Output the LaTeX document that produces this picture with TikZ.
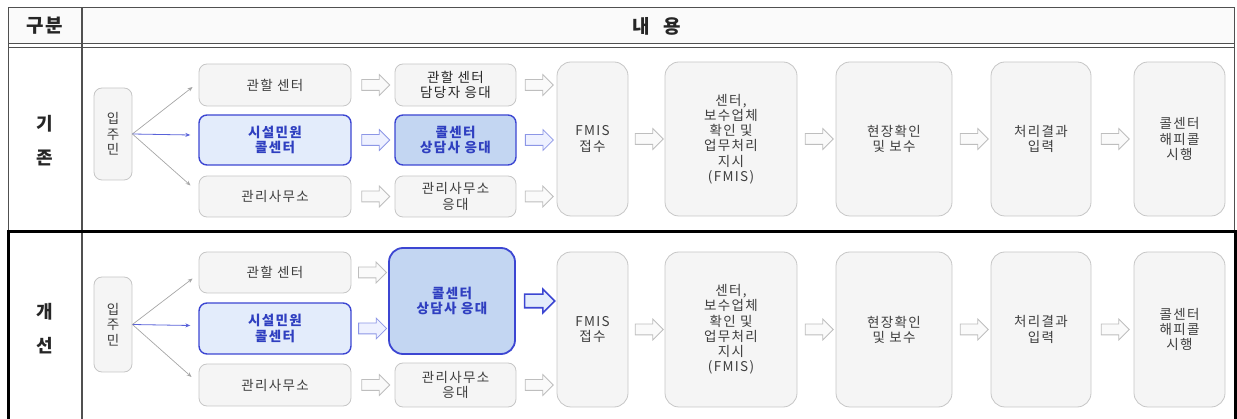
\documentclass[tikz,border=0pt]{standalone}
\usepackage{fontspec}
\newfontfamily\kr{Noto Sans CJK KR}[LetterSpace=10]
\usetikzlibrary{shapes.arrows,calc,arrows.meta}
\definecolor{gline}{HTML}{C6C6C6}
\definecolor{gfill}{HTML}{F5F5F5}
\definecolor{gtext}{HTML}{3E3E3E}
\definecolor{bline}{HTML}{3C46D2}
\definecolor{bfillA}{HTML}{E3ECFB}
\definecolor{bfillB}{HTML}{C3D6F2}
\definecolor{btext}{HTML}{2F3FC0}
\definecolor{aline}{HTML}{BEBEBE}
\definecolor{afill}{HTML}{FAFAFA}
\definecolor{abline}{HTML}{8C96E6}
\definecolor{abfill}{HTML}{EEF1FF}
\definecolor{tline}{HTML}{505050}
\newcommand\boxfont{\kr\fontsize{13.5}{15.2}\selectfont}
\newcommand\labfont{\kr\bfseries\fontsize{18}{34}\selectfont}
\tikzset{
  gbox/.style={draw=gline, fill=gfill, rounded corners=8pt, line width=0.8pt,
    font=\boxfont, text=gtext, align=center, inner sep=2pt},
  bigbox/.style={gbox, rounded corners=14pt},
  bbox/.style={draw=bline, fill=bfillA, rounded corners=8pt, line width=1.4pt,
    font=\boxfont\bfseries, text=btext, align=center, inner sep=2pt},
  bboxB/.style={bbox, fill=bfillB},
  barrow/.style={single arrow, draw=aline, fill=afill, line width=0.8pt,
    minimum height=28pt, minimum width=20pt, inner sep=5pt,
    single arrow head extend=5pt},
  barrowblue/.style={barrow, draw=abline, fill=abfill},
  barrowbold/.style={barrow, draw=bline, fill=bfillA, line width=1.6pt,
    minimum height=30pt, minimum width=21pt, inner sep=6pt},
  thin/.style={draw=gray!70, line width=0.7pt, -{Stealth[length=5pt,width=4pt]}},
  thinblue/.style={draw=bline!85, line width=0.8pt, -{Stealth[length=5pt,width=4pt]}},
  hdr/.style={font=\kr\bfseries\fontsize{19}{22}\selectfont, text=black!85},
  lab/.style={font=\labfont, text=black!85, align=center},
}
\begin{document}
\begin{tikzpicture}[x=1pt,y=-1pt]
\useasboundingbox (0,0) rectangle (1237,419);
% table
\fill[black!2] (8,8) rectangle (1234,44);
\draw[tline, line width=1pt] (8,419) -- (8,8) -- (1234,8) -- (1234,232);
\draw[tline, line width=1pt] (8,44) -- (1234,44);
\draw[tline, line width=1pt] (8,47.5) -- (1234,47.5);
\draw[tline, line width=1.3pt] (82,8) -- (82,419);
\draw[black, line width=3pt] (8,419) -- (8,232) -- (1235,232) -- (1235,419);
\node[hdr] (h1) at (45,26) {구분};
\node[hdr] (h2) at (657,26) {내\hspace{14pt}용};
\node[lab] (l1) at (45,141) {기\\존};
\node[lab] (l2) at (45,329) {개\\선};

% ---------- row 1 ----------
\node[gbox, minimum width=38pt, minimum height=92pt, font=\kr\fontsize{13.5}{15.5}\selectfont] (ip1) at (113,134) {입\\주\\민};
\node[gbox, minimum width=152pt, minimum height=42pt] (a1) at (275,85) {관할 센터};
\node[bbox, minimum width=152pt, minimum height=50pt] (b1) at (275,140) {시설민원\\콜센터};
\node[gbox, minimum width=152pt, minimum height=41pt] (c1) at (275,196.5) {관리사무소};
\node[gbox, minimum width=121pt, minimum height=42pt, text=black!85] (d1) at (455.5,85) {관할 센터\\담당자 응대};
\node[bboxB, minimum width=121pt, minimum height=50pt] (e1) at (455.5,140) {콜센터\\상담사 응대};
\node[gbox, minimum width=121pt, minimum height=41pt] (f1) at (455.5,196.5) {관리사무소\\응대};
\node[bigbox, minimum width=71pt, minimum height=154pt] (m1) at (592.5,139) {FMIS\\접수};
\node[bigbox, minimum width=132pt, minimum height=154pt] (g1) at (731,139) {센터,\\보수업체\\확인 및\\업무처리\\지시\\(FMIS)};
\node[bigbox, minimum width=116pt, minimum height=154pt] (k1) at (894,139) {현장확인\\및 보수};
\node[bigbox, minimum width=100pt, minimum height=154pt] (p1) at (1041,139) {처리결과\\입력};
\node[bigbox, minimum width=91pt, minimum height=154pt] (q1) at (1179.5,139) {콜센터\\해피콜\\시행};

\draw[thin] (ip1.east) -- ($(a1.west)+(-6,2)$);
\draw[thinblue] (ip1.east) -- ($(b1.west)+(-8,-5)$);
\draw[thin] (ip1.east) -- ($(c1.west)+(-8,-11)$);

\node[barrow] (r1a) at ($(a1.east)!0.5!(d1.west)$) {};
\node[barrowblue] (r1b) at ($(b1.east)!0.5!(e1.west)$) {};
\node[barrow] (r1c) at ($(c1.east)!0.5!(f1.west)$) {};
\node[barrow] (r1d) at ($(d1.east)!0.5!(m1.west |- d1.east)$) {};
\node[barrowblue] (r1e) at ($(e1.east)!0.5!(m1.west |- e1.east)$) {};
\node[barrow] (r1f) at ($(f1.east)!0.5!(m1.west |- f1.east)$) {};
\node[barrow] (r1g) at ($(m1.east)!0.5!(g1.west)$) {};
\node[barrow] (r1h) at ($(g1.east)!0.5!(k1.west)$) {};
\node[barrow] (r1i) at ($(k1.east)!0.5!(p1.west)$) {};
\node[barrow] (r1j) at ($(p1.east)!0.5!(q1.west)$) {};

% ---------- row 2 ----------
\node[gbox, minimum width=38pt, minimum height=95pt, font=\kr\fontsize{13.5}{15.5}\selectfont] (ip2) at (113,324.5) {입\\주\\민};
\node[gbox, minimum width=152pt, minimum height=41pt] (a2) at (275,272.5) {관할 센터};
\node[bbox, minimum width=152pt, minimum height=51pt] (b2) at (275,328.5) {시설민원\\콜센터};
\node[gbox, minimum width=152pt, minimum height=42pt] (c2) at (275,385) {관리사무소};
\node[bboxB, rounded corners=14pt, line width=1.8pt, minimum width=126pt, minimum height=106pt] (e2) at (452,301) {콜센터\\상담사 응대};
\node[gbox, minimum width=121pt, minimum height=44pt] (f2) at (455.5,385) {관리사무소\\응대};
\node[bigbox, minimum width=71pt, minimum height=155pt] (m2) at (592.5,329.5) {FMIS\\접수};
\node[bigbox, minimum width=132pt, minimum height=155pt] (g2) at (731,329.5) {센터,\\보수업체\\확인 및\\업무처리\\지시\\(FMIS)};
\node[bigbox, minimum width=116pt, minimum height=155pt] (k2) at (894,329.5) {현장확인\\및 보수};
\node[bigbox, minimum width=100pt, minimum height=155pt] (p2) at (1041,329.5) {처리결과\\입력};
\node[bigbox, minimum width=91pt, minimum height=155pt] (q2) at (1179.5,329.5) {콜센터\\해피콜\\시행};

\draw[thin] (ip2.east) -- ($(a2.west)+(-6,6)$);
\draw[thinblue] (ip2.east) -- ($(b2.west)+(-8,-3)$);
\draw[thin] (ip2.east) -- ($(c2.west)+(-7,-8)$);

\node[barrow] (r2a) at ($(a2.east)!0.5!(e2.west |- a2.east)$) {};
\node[barrowblue] (r2b) at ($(b2.east)!0.5!(e2.west |- b2.east)$) {};
\node[barrow] (r2c) at ($(c2.east)!0.5!(f2.west)$) {};
\node[barrowbold] (r2e) at ($(e2.east)!0.5!(m2.west |- e2.east)$) {};
\node[barrow] (r2f) at ($(f2.east)!0.5!(m2.west |- f2.east)$) {};
\node[barrow] (r2g) at ($(m2.east)!0.5!(g2.west)$) {};
\node[barrow] (r2h) at ($(g2.east)!0.5!(k2.west)$) {};
\node[barrow] (r2i) at ($(k2.east)!0.5!(p2.west)$) {};
\node[barrow] (r2j) at ($(p2.east)!0.5!(q2.west)$) {};
\end{tikzpicture}
\end{document}
